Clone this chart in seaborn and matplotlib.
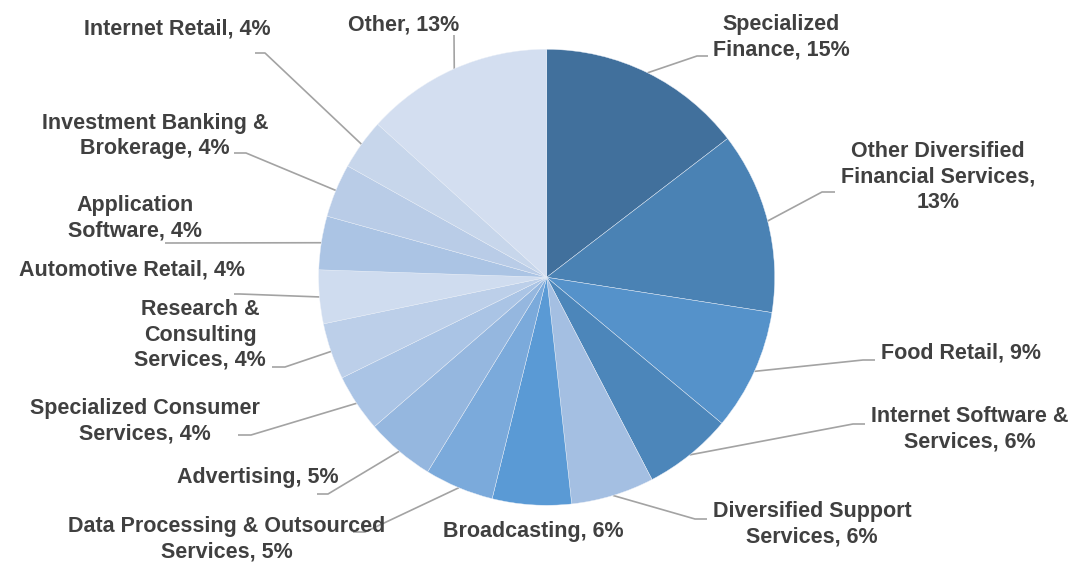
import numpy as np
import matplotlib
matplotlib.use("Agg")
import matplotlib.pyplot as plt
import seaborn as sns

# ---------------------------------------------------------------------------
# DATA (portfolio share by industry, clockwise from 12 o'clock)
# ---------------------------------------------------------------------------
industries = [
    "Specialized\nFinance",
    "Other Diversified\nFinancial Services",
    "Food Retail",
    "Internet Software &\nServices",
    "Diversified Support\nServices",
    "Broadcasting",
    "Data Processing & Outsourced\nServices",
    "Advertising",
    "Specialized Consumer\nServices",
    "Research &\nConsulting\nServices",
    "Automotive Retail",
    "Application\nSoftware",
    "Investment Banking &\nBrokerage",
    "Internet Retail",
    "Other",
]
shares = [14.6, 12.9, 8.6, 6.3, 5.9, 5.6, 4.9, 4.9, 4.1, 4.0, 3.8, 3.8, 3.8, 3.6, 13.3]
# percent goes on its own line for this one
pct_newline = [False, True, False, False, False, False, False, False,
               False, False, False, False, False, False, False]

colors = ["#41709C", "#4A82B4", "#5592CA", "#4C86BA", "#A4BFE2",
          "#5A9AD5", "#7BAADB", "#95B7DF", "#AAC4E5", "#BCCFE9",
          "#CFDCEF", "#ABC4E4", "#B9CCE7", "#C7D6EB", "#D3DEF0"]

# ---------------------------------------------------------------------------
# LAYOUT (pixels, origin top-left)
# ---------------------------------------------------------------------------
W, H = 1076, 562
CENTER = (546.7, 277.3)
RADIUS = 228

# text centre of each label
label_xy = [(781, 37), (938, 177), (961, 353), (970, 429), (812, 524),
            (533, 531), (227, 539), (258, 478), (145, 421), (200, 335),
            (132, 270), (135, 218), (155, 136), (177, 29), (404, 25)]
# leader: elbow point and end of the short horizontal tail (None = no leader)
leader = [((697, 56), 708), ((822, 192), 835), ((863, 360), 875),
          ((853, 424), 865), ((695, 519), 707), None,
          ((365, 532), 353), ((328, 494), 317), ((251, 435), 238),
          ((285, 367), 272), ((240, 294), 234), ((170, 243), 165),
          ((246, 153), 234), ((265, 53), 255), ((454, 35), 454)]

TEXT_COLOR = "#404040"
LINE_COLOR = "#A3A3A3"

sns.set_theme(style="white")
plt.rcParams["font.family"] = ["Liberation Sans", "DejaVu Sans"]


def flip(y):
    return H - y


fig = plt.figure(figsize=(W / 100, H / 100), dpi=100)
ax = fig.add_axes([0, 0, 1, 1])

wedges, _ = ax.pie(shares, colors=colors, startangle=90, counterclock=False,
                   radius=RADIUS, center=(CENTER[0], flip(CENTER[1])),
                   frame=True,
                   wedgeprops=dict(edgecolor="#E8EEF7", linewidth=0.3))

for i, w in enumerate(wedges):
    pct = f"{round(shares[i])}%"
    sep = ",\n" if pct_newline[i] else ", "
    tx, ty = label_xy[i]
    ax.text(tx, flip(ty), industries[i] + sep + pct, ha="center", va="center",
            multialignment="center", fontsize=15.5, fontweight="bold",
            color=TEXT_COLOR, linespacing=1.27)

    if leader[i] is None:
        continue
    mid = np.deg2rad((w.theta1 + w.theta2) / 2)
    ex = CENTER[0] + RADIUS * np.cos(mid)
    ey = flip(CENTER[1]) + RADIUS * np.sin(mid)
    (bx, by), end_x = leader[i]
    ax.plot([ex, bx, end_x], [ey, flip(by), flip(by)], color=LINE_COLOR,
            lw=1.2, solid_capstyle="butt", zorder=0)

ax.set_xlim(0, W)
ax.set_ylim(0, H)
ax.set_aspect("equal")
ax.axis("off")

fig.savefig("out.png", dpi=100, facecolor="white")
